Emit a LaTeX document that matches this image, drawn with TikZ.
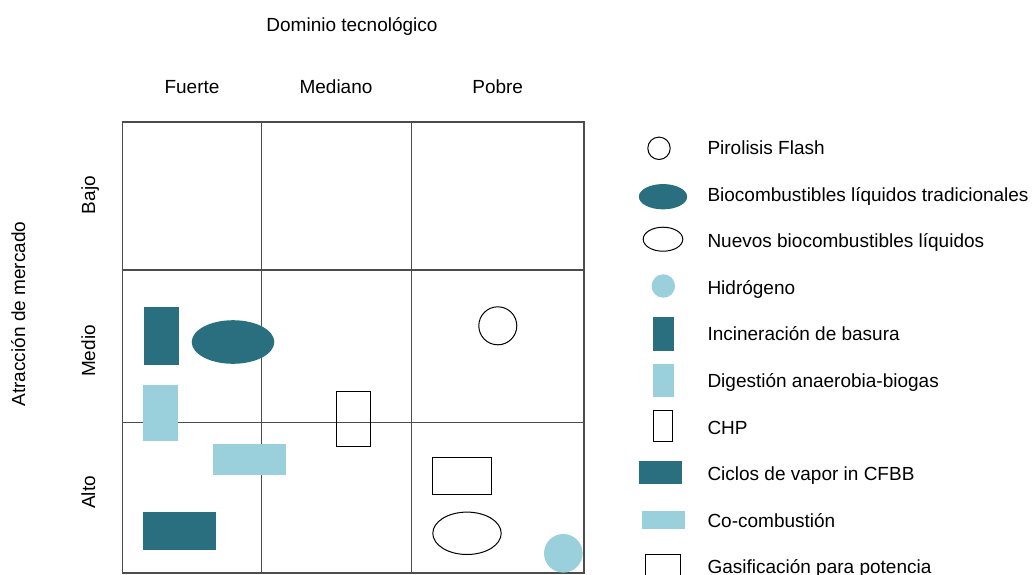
\documentclass[tikz,border=0pt]{standalone}
\usepackage{fontspec}
\setmainfont{Liberation Sans}
\usetikzlibrary{shapes.geometric}
\definecolor{tealdark}{RGB}{42,111,128}
\definecolor{lightblue}{RGB}{154,208,220}
\begin{document}
\begin{tikzpicture}[x=1pt,y=-1pt,
  lbl/.style={font=\fontsize{19}{22}\selectfont, inner sep=0pt, anchor=base},
  legtxt/.style={lbl, anchor=base west},
  vlbl/.style={lbl, rotate=90},
  gridln/.style={draw=black!70, line width=1.4pt},
  shp/.style={inner sep=0pt, outer sep=0pt},
  darkrect/.style={shp, rectangle, fill=tealdark},
  lightrect/.style={shp, rectangle, fill=lightblue},
  openrect/.style={shp, rectangle, draw=black, line width=1pt},
  darkell/.style={shp, ellipse, fill=tealdark},
  openell/.style={shp, ellipse, draw=black, line width=1pt},
  opencirc/.style={shp, circle, draw=black, line width=1pt},
  lightcirc/.style={shp, circle, fill=lightblue}
]
\useasboundingbox (0,0) rectangle (1036,574);
\fill[white] (0,0) rectangle (1036,574);

% grid
\draw[gridln] (122.7,122) rectangle (584,573);
\draw[gridln] (122.7,270) -- (584,270);
\draw[gridln] (122.7,422.3) -- (584,422.3);
\draw[gridln] (261.3,122) -- (261.3,573);
\draw[gridln] (411.7,122) -- (411.7,573);

% headings
\node[lbl] (dom) at (352,31.7) {Dominio tecnológico};
\node[lbl] (fue) at (192,93.3) {Fuerte};
\node[lbl] (med) at (336,93.3) {Mediano};
\node[lbl] (pob) at (497.7,93.3) {Pobre};
\node[vlbl] (atr) at (25,314) {Atracción de mercado};
\node[vlbl] (baj) at (95,195) {Bajo};
\node[vlbl] (mdo) at (95,351) {Medio};
\node[vlbl] (alt) at (95,492.5) {Alto};

% items in matrix
\node[darkrect, minimum width=35pt, minimum height=58pt] (inc) at (161.5,336) {};
\node[darkell, minimum width=82.6pt, minimum height=43.6pt] (bio) at (233,342) {};
\node[lightrect, minimum width=35pt, minimum height=56pt] (dig) at (160.5,413) {};
\node[lightrect, minimum width=73pt, minimum height=31pt] (coc) at (249.5,459.5) {};
\node[darkrect, minimum width=73pt, minimum height=38pt] (cic) at (179.5,531) {};
\node[openrect, minimum width=33.7pt, minimum height=54.3pt] (chp) at (353.3,419) {};
\node[opencirc, minimum size=38pt] (pir) at (497.8,325.8) {};
\node[openrect, minimum width=58.7pt, minimum height=37pt] (gas) at (462.2,475.7) {};
\node[openell, minimum width=68.4pt, minimum height=42.4pt] (nue) at (467,533.3) {};
\node[lightcirc, minimum size=38.6pt] (hid) at (563.3,553.3) {};

% legend symbols
\node[opencirc, minimum size=22.4pt] (lpir) at (659,148.3) {};
\node[darkell, minimum width=48.3pt, minimum height=25.3pt] (lbio) at (663,196.7) {};
\node[openell, minimum width=39.6pt, minimum height=24pt] (lnue) at (663,239.2) {};
\node[lightcirc, minimum size=23.4pt] (lhid) at (663.3,286) {};
\node[darkrect, minimum width=21pt, minimum height=34pt] (linc) at (663.5,333.7) {};
\node[lightrect, minimum width=21pt, minimum height=32.7pt] (ldig) at (663.5,380.3) {};
\node[openrect, minimum width=19.6pt, minimum height=31.6pt] (lchp) at (663,426) {};
\node[darkrect, minimum width=43pt, minimum height=23pt] (lcic) at (660.5,472.5) {};
\node[lightrect, minimum width=43pt, minimum height=18pt] (lcoc) at (663.5,520) {};
\node[openrect, minimum width=34.4pt, minimum height=32pt] (lgas) at (663,570) {};

% legend texts
\node[legtxt] (tpir) at (707.3,154.3) {Pirolisis Flash};
\node[legtxt] (tbio) at (707.3,201) {Biocombustibles líquidos tradicionales};
\node[legtxt] (tnue) at (707.3,247.6) {Nuevos biocombustibles líquidos};
\node[legtxt] (thid) at (707.3,294.2) {Hidrógeno};
\node[legtxt] (tinc) at (707.3,340.8) {Incineración de basura};
\node[legtxt] (tdig) at (707.3,387.4) {Digestión anaerobia-biogas};
\node[legtxt] (tchp) at (707.3,434) {CHP};
\node[legtxt] (tcic) at (707.3,480.6) {Ciclos de vapor in CFBB};
\node[legtxt] (tcoc) at (707.3,527.2) {Co-combustión};
\node[legtxt] (tgas) at (707.3,573.8) {Gasificación para potencia};
\end{tikzpicture}
\end{document}
